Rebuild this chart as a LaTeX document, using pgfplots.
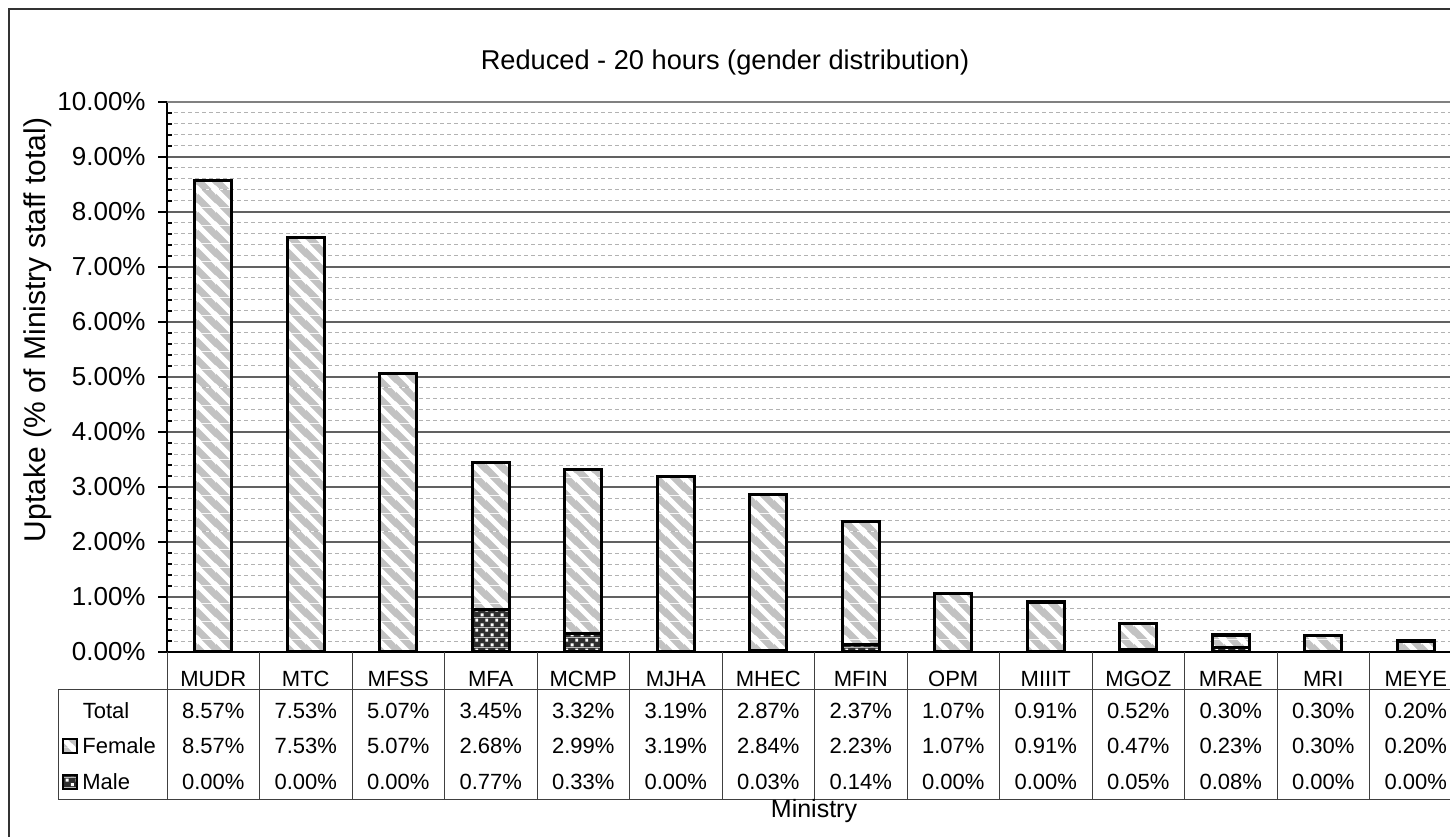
\documentclass[border=0pt]{standalone}
\usepackage{fontspec}
\setmainfont{Liberation Sans}
\usepackage{pgfplots}
\pgfplotsset{compat=1.18}
\usepackage{pgfplotstable}
\usetikzlibrary{patterns}

% uptake in % of ministry staff
\pgfplotstableread{
cat   total female male
MUDR  8.57  8.57   0.00
MTC   7.53  7.53   0.00
MFSS  5.07  5.07   0.00
MFA   3.45  2.68   0.77
MCMP  3.32  2.99   0.33
MJHA  3.19  3.19   0.00
MHEC  2.87  2.84   0.03
MFIN  2.37  2.23   0.14
OPM   1.07  1.07   0.00
MIIIT 0.91  0.91   0.00
MGOZ  0.52  0.47   0.05
MRAE  0.30  0.23   0.08
MRI   0.30  0.30   0.00
MEYE  0.20  0.20   0.00
}\datatable

% grey with white "\" stripes, dark with little white squares
\pgfdeclarepatterninherentlycolored{femstripes}{\pgfpointorigin}{\pgfqpoint{9pt}{9pt}}{\pgfqpoint{9pt}{9pt}}{
  \pgfsetfillcolor{black!24}
  \pgfpathrectangle{\pgfpointorigin}{\pgfqpoint{9pt}{9pt}}
  \pgfusepath{fill}
  \pgfsetstrokecolor{white}
  \pgfsetlinewidth{2.6pt}
  \pgfpathmoveto{\pgfqpoint{-2pt}{11pt}}\pgfpathlineto{\pgfqpoint{11pt}{-2pt}}
  \pgfpathmoveto{\pgfqpoint{-2pt}{2pt}}\pgfpathlineto{\pgfqpoint{2pt}{-2pt}}
  \pgfpathmoveto{\pgfqpoint{7pt}{11pt}}\pgfpathlineto{\pgfqpoint{11pt}{7pt}}
  \pgfusepath{stroke}
}
\pgfdeclarepatterninherentlycolored{maledots}{\pgfpointorigin}{\pgfqpoint{5pt}{5pt}}{\pgfqpoint{5pt}{5pt}}{
  \pgfsetfillcolor{black!82}
  \pgfpathrectangle{\pgfpointorigin}{\pgfqpoint{5pt}{5pt}}
  \pgfusepath{fill}
  \pgfsetfillcolor{white}
  \pgfpathrectangle{\pgfqpoint{0.4pt}{0.4pt}}{\pgfqpoint{1.6pt}{1.6pt}}
  \pgfpathrectangle{\pgfqpoint{2.9pt}{2.9pt}}{\pgfqpoint{1.6pt}{1.6pt}}
  \pgfusepath{fill}
}

\newcommand\tblfont{\fontsize{11}{13}\selectfont}
\tikzset{
  tblline/.style={black!75,line width=0.5pt},
}

\begin{document}
\begin{tikzpicture}
\useasboundingbox (0,0) rectangle (725pt,418pt);
\draw[black!80,line width=1pt] (4.5pt,-20pt) rectangle (760pt,413.5pt);

\begin{axis}[
  at={(83.5pt,92pt)}, anchor=south west,
  scale only axis, width=647.5pt, height=275pt,
  xmin=-0.5, xmax=13.5, ymin=0, ymax=10,
  ybar stacked, bar width=18.5pt,
  axis lines=left, axis line style={-, line width=0.9pt},
  xtick=data, xticklabels from table={\datatable}{cat},
  major x tick style={draw=none},
  xticklabel style={font=\tblfont, anchor=center, yshift=-9pt},
  ytick={0,1,...,10}, minor y tick num=4,
  tick align=outside, major tick length=4.5pt, minor tick length=2.5pt,
  minor y tick style={xshift=2.5pt},
  tick style={black, line width=0.8pt},
  yticklabel={\pgfmathprintnumber[fixed,fixed zerofill,precision=2]{\tick}\%},
  yticklabel style={font=\fontsize{13}{15}\selectfont, anchor=east, inner sep=0pt, xshift=-6pt},
  ymajorgrids, yminorgrids,
  major grid style={black!62, line width=0.55pt},
  minor grid style={black!30, line width=0.5pt, dash pattern=on 2pt off 1.5pt},
  /pgf/number format/assume math mode=true,
]
\addplot[draw=black, line width=1.6pt, pattern=maledots] table[x expr=\coordindex, y=male] {\datatable};
\addplot[draw=black, line width=1.6pt, pattern=femstripes] table[x expr=\coordindex, y=female] {\datatable};
\draw[black!50, line width=1pt] (rel axis cs:0,1) -- (rel axis cs:1,1);
\end{axis}

% data table under the chart
\foreach \i in {0,...,14}{
  \pgfmathsetmacro\sx{83.5+\i*46.25}
  \draw[tblline] (\sx pt,92pt) -- (\sx pt,18.5pt);
}
\draw[tblline] (29pt,73.5pt) -- (760pt,73.5pt);
\draw[tblline] (29pt,18.5pt) -- (760pt,18.5pt);
\draw[tblline] (29pt,73.5pt) -- (29pt,18.5pt);

\foreach \i in {0,...,13}{
  \pgfplotstablegetelem{\i}{total}\of\datatable \let\vt\pgfplotsretval
  \pgfplotstablegetelem{\i}{female}\of\datatable \let\vf\pgfplotsretval
  \pgfplotstablegetelem{\i}{male}\of\datatable \let\vm\pgfplotsretval
  \pgfmathsetmacro\cx{83.5+(\i+0.5)*46.25}
  \node[font=\tblfont] at (\cx pt,62.5pt) {\vt\%};
  \node[font=\tblfont] at (\cx pt,45pt) {\vf\%};
  \node[font=\tblfont] at (\cx pt,27pt) {\vm\%};
}
\node[font=\tblfont] at (53pt,62.5pt) {Total};
\path[draw=black, line width=1pt, pattern=femstripes] (31.5pt,41.5pt) rectangle (38.5pt,48.5pt);
\node[font=\tblfont, anchor=west, inner sep=0pt] at (41pt,45pt) {Female};
\path[draw=black, line width=1pt, pattern=maledots] (31.5pt,23.5pt) rectangle (38.5pt,30.5pt);
\node[font=\tblfont, anchor=west, inner sep=0pt] at (41pt,27pt) {Male};

\node[font=\fontsize{13.6}{16}\selectfont] at (362.5pt,387pt) {Reduced - 20 hours (gender distribution)};
\node[font=\fontsize{12.5}{15}\selectfont] at (407pt,12.5pt) {Ministry};
\node[font=\fontsize{15}{18}\selectfont, rotate=90] at (19pt,253pt) {Uptake (\% of Ministry staff total)};
\end{tikzpicture}
\end{document}
